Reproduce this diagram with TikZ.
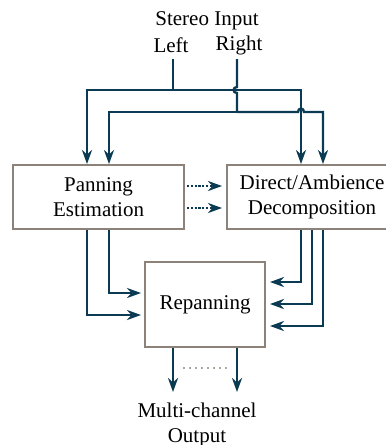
\documentclass[tikz,border=0pt]{standalone}
\usepackage{fontspec}
\setmainfont{Liberation Serif}
\usetikzlibrary{arrows.meta}
\definecolor{wire}{HTML}{0B3A53}
\definecolor{frame}{HTML}{8C8279}
\tikzset{
    block/.style={draw=frame,line width=1pt,fill=white,align=center,inner sep=0pt},
    label/.style={align=center,inner sep=0pt},
    sig/.style={wire,line width=1.2pt,-{Stealth[length=7pt,width=5pt,inset=2.2pt]}},
    plain/.style={wire,line width=1.2pt},
    hint/.style={sig,dash pattern=on 1.1pt off 0.8pt,shorten <=1pt,shorten >=2pt},
}
\begin{document}
\begin{tikzpicture}[x=0.5pt,y=-0.5pt,font=\fontsize{10.5}{12.5}\selectfont]
    \useasboundingbox (0,0) rectangle (386,445);
    \clip (0,0) rectangle (386,445);
    % labels
    \node[label] (stereo) at (207,21) {Stereo Input};
    \node[label] (left) at (171,45) {Left};
    \node[label] (right) at (239,45) {Right};
    \node[label] (out) at (197,425) {Multi-channel\\Output};
    % blocks
    \node[block,minimum width=85.5pt,minimum height=32pt] (pan) at (98.5,197) {Panning\\Estimation};
    \node[block,minimum width=85pt,minimum height=32pt] (dec) at (312,197) {Direct/Ambience\\Decomposition};
    \node[block,minimum width=60pt,minimum height=42.5pt] (rep) at (205,304.5) {Repanning};
    % junctions and free ends
    \coordinate (inL) at (173,59);
    \coordinate (inR) at (237,59);
    \coordinate (jL) at (173,90);
    \coordinate (jR) at (237,112);
    \coordinate (outA) at (173,392);
    \coordinate (outB) at (237,392);
    % stereo input
    \draw[plain] (inL) -- (jL);
    \draw[sig] (jL) -| (pan.north -| 87,0);
    \draw[sig] (jL) -| (dec.north -| 301,0);
    \draw[plain] (inR) -- (237,87) .. controls (232.5,87) and (232.5,93) .. (237,93) -- (jR);
    \draw[sig] (jR) -| (pan.north -| 109,0);
    \draw[sig] (jR) -- (298,112) .. controls (298,107.5) and (304,107.5) .. (304,112) -| (dec.north -| 323,0);
    % panning info
    \draw[hint] (pan.east |- 0,186) -- (dec.west |- 0,186);
    \draw[hint] (pan.east |- 0,208) -- (dec.west |- 0,208);
    % to repanning
    \draw[sig,shorten >=1.5pt] (pan.south -| 109,0) |- (rep.west |- 0,293);
    \draw[sig,shorten >=1.5pt] (pan.south -| 87,0) |- (rep.west |- 0,315);
    \draw[sig,shorten >=2pt] (dec.south -| 301,0) |- (rep.east |- 0,282);
    \draw[sig,shorten >=2pt] (dec.south -| 312,0) |- (rep.east |- 0,304);
    \draw[sig,shorten >=2pt] (dec.south -| 323,0) |- (rep.east |- 0,326);
    % outputs
    \draw[sig] (rep.south -| outA) -- (outA);
    \draw[sig] (rep.south -| outB) -- (outB);
    \draw[frame!70,line width=1pt,dotted] (183,368) -- (228,368);
\end{tikzpicture}
\end{document}
